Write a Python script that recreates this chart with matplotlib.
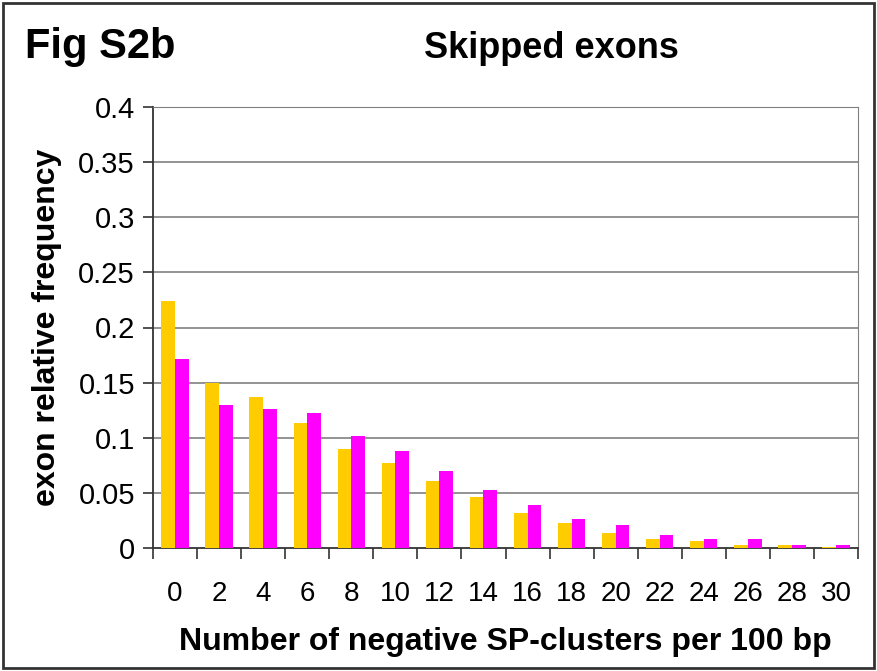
import numpy as np
import matplotlib.pyplot as plt
from matplotlib.patches import Rectangle

plt.rcParams['font.family'] = ['Liberation Sans', 'DejaVu Sans']

# data
clusters = ['0', '2', '4', '6', '8', '10', '12', '14', '16', '18', '20', '22', '24', '26', '28', '30']
yellow_vals = [0.224, 0.150, 0.137, 0.113, 0.090, 0.077, 0.061, 0.046, 0.032, 0.023,
               0.014, 0.008, 0.006, 0.003, 0.003, 0.001]
magenta_vals = [0.171, 0.130, 0.126, 0.122, 0.102, 0.088, 0.070, 0.053, 0.039, 0.026,
                0.021, 0.012, 0.008, 0.008, 0.003, 0.003]
y_ticks = [0, 0.05, 0.1, 0.15, 0.2, 0.25, 0.3, 0.35, 0.4]
y_labels = ['0', '0.05', '0.1', '0.15', '0.2', '0.25', '0.3', '0.35', '0.4']

fig = plt.figure(figsize=(8.77, 6.71), dpi=100)
ax = fig.add_axes([153/877, 123/671, 705/877, 441/671])

x = np.arange(len(clusters))
w = 0.31
ax.bar(x - w/2, yellow_vals, w, color='#FFCC00', zorder=3)
ax.bar(x + w/2, magenta_vals, w, color='#FF00FF', zorder=3)

ax.set_xlim(-0.5, len(clusters) - 0.5)
ax.set_ylim(0, 0.4)
ax.set_yticks(y_ticks)
ax.set_yticklabels(y_labels, fontsize=21)
for t in y_ticks[1:]:
    ax.axhline(t, color='#808080', lw=1.2, zorder=1)

# category labels centred, tick marks between categories
ax.set_xticks(x)
ax.set_xticklabels(clusters, fontsize=20)
ax.tick_params(axis='x', which='major', length=0, pad=24)
ax.set_xticks(np.arange(-0.5, len(clusters)), minor=True)
ax.tick_params(axis='x', which='minor', length=8, width=1.2, color='#333333', direction='out')
ax.tick_params(axis='y', length=7, width=1.2, color='#333333', direction='out', pad=6)

ax.spines['left'].set_color('#333333')
ax.spines['bottom'].set_color('#333333')
ax.spines['left'].set_linewidth(1.3)
ax.spines['bottom'].set_linewidth(1.3)
ax.spines['right'].set_color('#808080')
ax.spines['top'].set_color('#808080')

ax.set_ylabel('exon relative frequency', fontsize=23, fontweight='bold', labelpad=12)
ax.set_xlabel('Number of negative SP-clusters per 100 bp', fontsize=23, fontweight='bold', labelpad=14)

fig.text(551/877, 1 - 48/671, 'Skipped exons', fontsize=26, fontweight='bold', ha='center', va='center')
fig.text(25/877, 1 - 47/671, 'Fig S2b', fontsize=30, fontweight='bold', ha='left', va='center')

fig.patches.append(Rectangle((3/877, 3/671), 1 - 6/877, 1 - 6/671, transform=fig.transFigure,
                             fill=False, edgecolor='#333333', lw=2))

fig.savefig('out.png', dpi=100)
